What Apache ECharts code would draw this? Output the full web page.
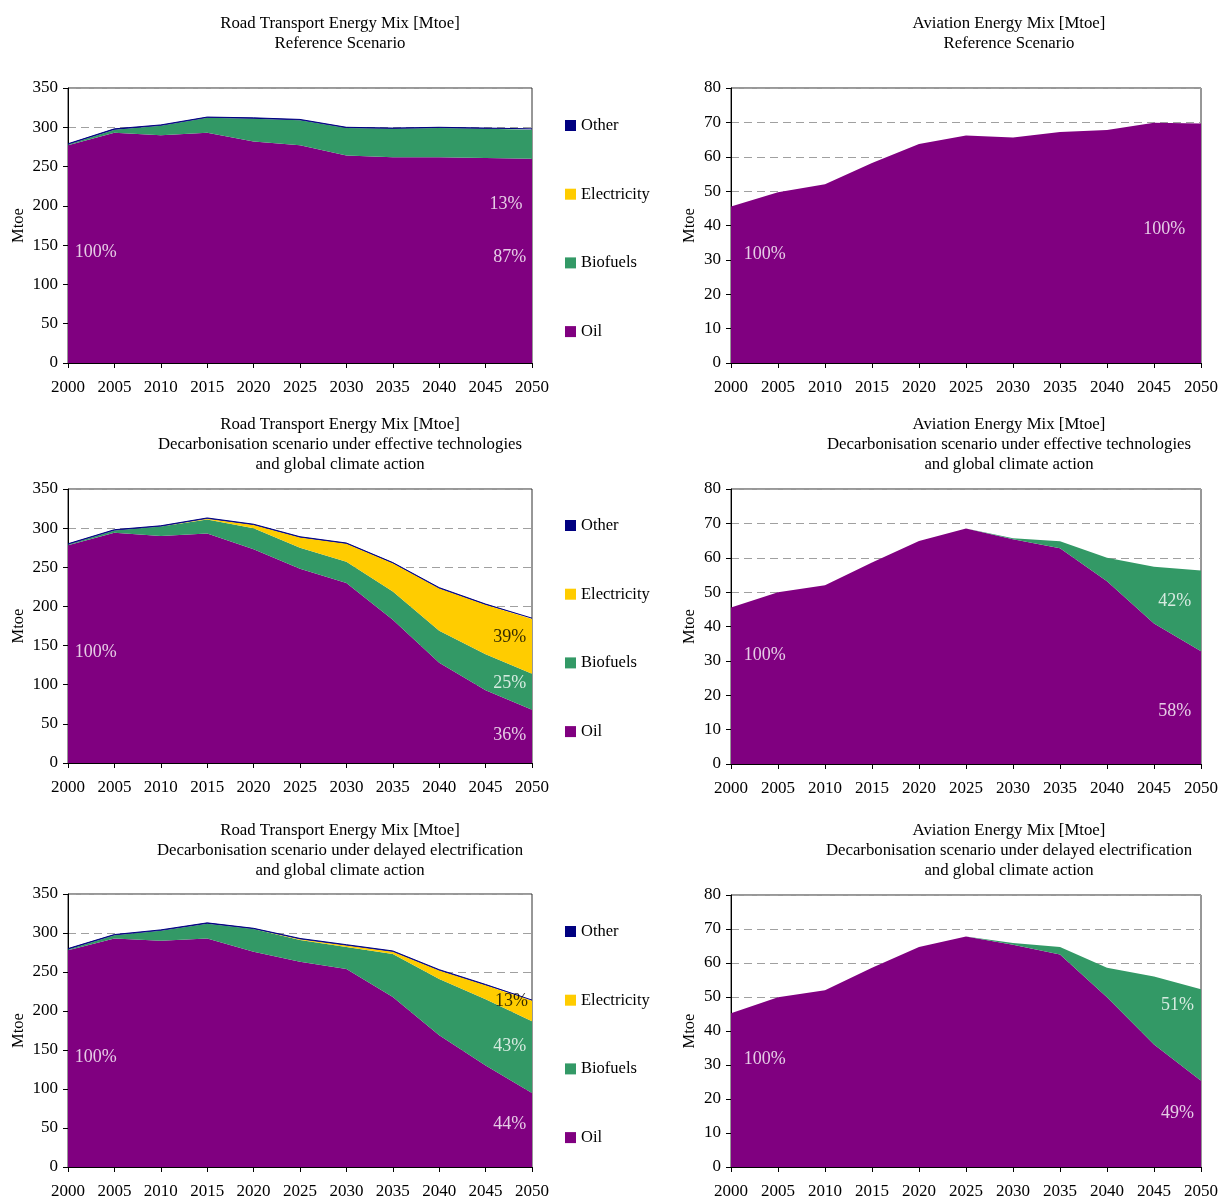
<!DOCTYPE html>
<html>
<head>
<meta charset="utf-8">
<script src="https://cdn.jsdelivr.net/npm/echarts@6/dist/echarts.min.js"></script>
<style>
html,body{margin:0;padding:0;background:#fff;}
#chart{width:1221px;height:1200px;}
</style>
</head>
<body>
<div id="chart"></div>
<script>
// ---------- data ----------
const years = ['2000', '2005', '2010', '2015', '2020', '2025', '2030', '2035', '2040', '2045', '2050'];
const legendNames = ['Other', 'Electricity', 'Biofuels', 'Oil'];

// Road transport - Reference scenario
const roadRefOil   = [277, 293, 290, 293, 282, 277, 264, 262, 262, 261, 260];
const roadRefBio   = [1, 4, 12, 19, 29, 32, 35, 36, 37, 37, 37];
const roadRefElec  = [0, 0, 0, 0, 0, 0, 0, 0, 0, 0, 0];
const roadRefOther = [1, 1, 1, 1, 1, 1, 1, 1, 1, 1, 1];

// Road transport - effective technologies
const roadEffOil   = [278, 294, 290, 293, 273, 248, 230, 183, 128, 93, 68];
const roadEffBio   = [1, 3, 12, 18, 27, 27, 27, 36, 41, 46, 46];
const roadEffElec  = [0, 0, 0, 1, 4, 13, 23, 36, 54, 63, 70];
const roadEffOther = [1, 1, 1, 1, 1, 1, 1, 1, 1, 1, 1];

// Road transport - delayed electrification
const roadDelOil   = [278, 293, 290, 293, 276, 263, 254, 218, 169, 130, 95];
const roadDelBio   = [1, 4, 13, 19, 29, 28, 28, 55, 72, 85, 92];
const roadDelElec  = [0, 0, 0, 0, 0, 1, 2, 3, 11, 18, 26];
const roadDelOther = [1, 1, 1, 1, 1, 1, 1, 1, 1, 1, 1];

// Aviation
const avRefOil = [45.5, 49.7, 52.0, 58.2, 63.7, 66.2, 65.6, 67.2, 67.8, 69.9, 69.7];
const avRefBio = [0, 0, 0, 0, 0, 0, 0, 0, 0, 0, 0];
const avEffOil = [45.5, 50.0, 52.0, 58.6, 64.9, 68.5, 65.4, 62.8, 53.2, 40.9, 32.8];
const avEffBio = [0, 0, 0, 0, 0, 0, 0.3, 2.0, 6.8, 16.5, 23.5];
const avDelOil = [45.2, 49.9, 52.0, 58.6, 64.7, 67.8, 65.4, 62.5, 49.9, 36.0, 25.4];
const avDelBio = [0, 0, 0, 0, 0, 0, 0.5, 2.2, 8.7, 20.0, 26.9];

// Share annotations: [year position, value position, text, dark?]
const roadRefNotes = [[2003, 141, '100%', 0], [2047.6, 135, '87%', 0], [2047.2, 202, '13%', 0]];
const roadEffNotes = [[2003, 142, '100%', 0], [2047.6, 160, '39%', 1], [2047.6, 102, '25%', 0], [2047.6, 36, '36%', 0]];
const roadDelNotes = [[2003, 141, '100%', 0], [2047.8, 212, '13%', 1], [2047.6, 155, '43%', 0], [2047.6, 55, '44%', 0]];
const avRefNotes = [[2003.6, 31.7, '100%', 0], [2046.1, 39.0, '100%', 0]];
const avEffNotes = [[2003.6, 31.7, '100%', 0], [2047.2, 47.4, '42%', 0], [2047.2, 15.4, '58%', 0]];
const avDelNotes = [[2003.6, 31.8, '100%', 0], [2047.5, 47.6, '51%', 0], [2047.5, 15.8, '49%', 0]];

const titles = [
  'Road Transport Energy Mix [Mtoe]\nReference Scenario',
  'Aviation Energy Mix [Mtoe]\nReference Scenario',
  'Road Transport Energy Mix [Mtoe]\nDecarbonisation scenario under effective technologies\nand global climate action',
  'Aviation Energy Mix [Mtoe]\nDecarbonisation scenario under effective technologies\nand global climate action',
  'Road Transport Energy Mix [Mtoe]\nDecarbonisation scenario under delayed electrification\nand global climate action',
  'Aviation Energy Mix [Mtoe]\nDecarbonisation scenario under delayed electrification\nand global climate action'
];

// ---------- styling / layout ----------
const FONT = "'Liberation Serif', 'Times New Roman', serif";
const COLORS = { Oil: '#800080', Biofuels: '#339966', Electricity: '#FFCC00', Other: '#000080' };

const panels = [
  { left: 68, right: 689, top: 88, height: 275, max: 350, interval: 50, gap: 41 },
  { left: 731, right: 18, top: 88, height: 275, max: 80, interval: 10, gap: 33 },
  { left: 68, right: 689, top: 489, height: 274, max: 350, interval: 50, gap: 41 },
  { left: 731, right: 18, top: 489, height: 275, max: 80, interval: 10, gap: 33 },
  { left: 68, right: 689, top: 894, height: 274, max: 350, interval: 50, gap: 41 },
  { left: 731, right: 18, top: 895, height: 274, max: 80, interval: 10, gap: 33 }
];
const titleTops = [14, 14, 415, 415, 821, 821];
const titleCenters = [340, 1009, 340, 1009, 340, 1009];

const panelSeries = [
  { Oil: roadRefOil, Biofuels: roadRefBio, Electricity: roadRefElec, Other: roadRefOther, notes: roadRefNotes },
  { Oil: avRefOil, Biofuels: avRefBio, notes: avRefNotes },
  { Oil: roadEffOil, Biofuels: roadEffBio, Electricity: roadEffElec, Other: roadEffOther, notes: roadEffNotes },
  { Oil: avEffOil, Biofuels: avEffBio, notes: avEffNotes },
  { Oil: roadDelOil, Biofuels: roadDelBio, Electricity: roadDelElec, Other: roadDelOther, notes: roadDelNotes },
  { Oil: avDelOil, Biofuels: avDelBio, notes: avDelNotes }
];

const grid = [], xAxis = [], yAxis = [], series = [], title = [];
panels.forEach((p, i) => {
  grid.push({ left: p.left, right: p.right, top: p.top, height: p.height,
    show: true, borderColor: '#303030', borderWidth: 1, backgroundColor: 'transparent' });
  // visible category axis for the stacked areas
  xAxis.push({
    type: 'category', gridIndex: i, data: years, boundaryGap: false,
    axisLine: { show: true, onZero: false, lineStyle: { color: '#000', width: 1 } },
    axisTick: { show: true, inside: false, length: 5, alignWithLabel: true, lineStyle: { color: '#000' } },
    axisLabel: { show: true, interval: 0, margin: 16, fontFamily: FONT, fontSize: 17, color: '#000' },
    splitLine: { show: false }
  });
  // hidden value axis for placing the share annotations
  xAxis.push({
    type: 'value', gridIndex: i, min: 2000, max: 2050, interval: 5, show: false,
    splitLine: { show: false }
  });
  yAxis.push({
    type: 'value', gridIndex: i, min: 0, max: p.max, interval: p.interval,
    name: 'Mtoe', nameLocation: 'middle', nameRotate: 90, nameGap: p.gap,
    nameTextStyle: { fontFamily: FONT, fontSize: 16.5, color: '#000' },
    axisLine: { show: true, lineStyle: { color: '#000', width: 1 } },
    axisTick: { show: true, inside: false, length: 5, lineStyle: { color: '#000' } },
    axisLabel: { margin: 10, fontFamily: FONT, fontSize: 17, color: '#000' },
    splitLine: { show: true, lineStyle: { color: '#a0a0a0', width: 1, type: [8, 5] } }
  });
  title.push({
    text: titles[i], left: titleCenters[i], top: titleTops[i], textAlign: 'center', padding: 0,
    textStyle: { fontFamily: FONT, fontSize: 16.8, fontWeight: 'normal', color: '#000', lineHeight: 20 }
  });
  const ps = panelSeries[i];
  ['Oil', 'Biofuels', 'Electricity', 'Other'].forEach(name => {
    if (!ps[name]) return;
    const isOther = name === 'Other';
    series.push({
      name: name, type: 'line', xAxisIndex: 2 * i, yAxisIndex: i, stack: 'p' + i,
      data: ps[name],
      showSymbol: false, symbol: 'none', silent: true,
      lineStyle: isOther ? { width: 1, color: COLORS.Other } : { width: 0, opacity: 0 },
      itemStyle: { color: COLORS[name] },
      areaStyle: { color: COLORS[name], opacity: 1 },
      z: 2
    });
  });
  series.push({
    name: 'notes' + i, type: 'scatter', xAxisIndex: 2 * i + 1, yAxisIndex: i,
    data: ps.notes.map(n => ({ value: [n[0], n[1]], name: n[2],
      label: { color: n[3] ? '#000' : '#fff' } })),
    symbolSize: 0, silent: true, z: 5,
    label: { show: true, position: 'inside', formatter: d => d.name,
      fontFamily: FONT, fontSize: 18 }
  });
});

const legendTops = [117, 517, 923];
const legend = legendTops.map(t => ({
  data: legendNames, orient: 'vertical', left: 565, top: t, padding: 0,
  icon: 'rect', itemWidth: 11, itemHeight: 11, itemGap: 51.7, selectedMode: false,
  textStyle: { fontFamily: FONT, fontSize: 16.5, color: '#000', lineHeight: 15 }
}));

const chart = echarts.init(document.getElementById('chart'), null, { renderer: 'canvas' });
chart.setOption({
  backgroundColor: '#fff',
  animation: false,
  title, legend, grid, xAxis, yAxis, series
});
</script>
</body>
</html>
